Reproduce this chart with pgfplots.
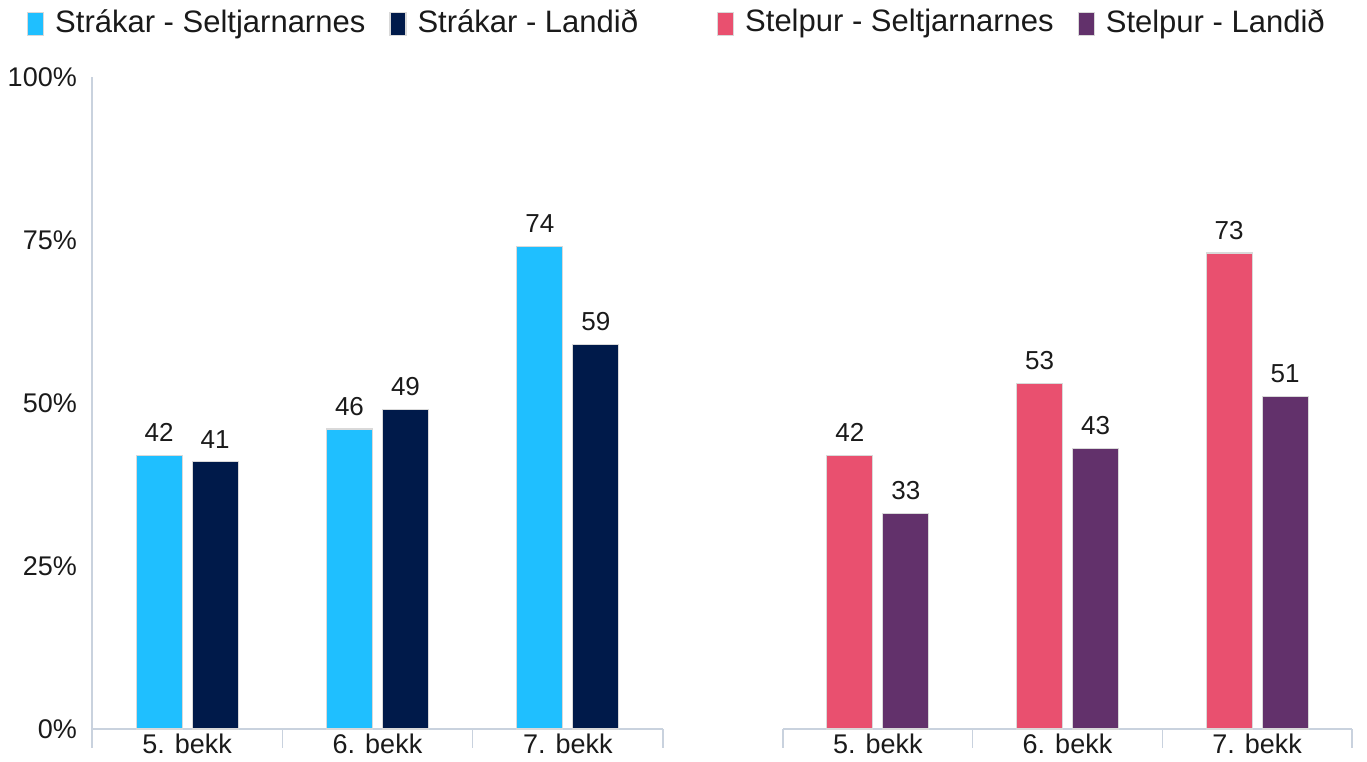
\documentclass[border=0pt]{standalone}
\usepackage{fontspec}
\setmainfont{Liberation Sans}
\usepackage{pgfplots}
\pgfplotsset{compat=1.18}
\definecolor{cblue}{HTML}{1FBFFF}
\definecolor{cnavy}{HTML}{001A4A}
\definecolor{cred}{HTML}{E9506F}
\definecolor{cpurp}{HTML}{62316B}
\definecolor{axcol}{HTML}{C9D2DE}
\definecolor{txt}{HTML}{1A1A1A}
\pgfplotsset{
 mybase/.style={
  scale only axis, height=652pt,
  ymin=0,ymax=100,xmin=-0.5,xmax=2.5,
  axis x line*=bottom,
  axis line style={axcol, line width=1.5pt},
  xtick={0,1,2}, xticklabels={5. bekk,6. bekk,7. bekk},
  major tick length=0pt,
  extra x ticks={-0.5,0.5,1.5,2.5}, extra x tick labels={},
  extra x tick style={major tick length=19pt, tick align=outside, tick style={axcol, line width=1.5pt}},
  xticklabel style={font=\fontsize{27}{30}\selectfont, text=txt, inner sep=0pt, anchor=north, yshift=-5pt},
  ybar, bar width=46pt,
  nodes near coords,
  every node near coord/.append style={font=\fontsize{26}{30}\selectfont, text=txt, inner sep=0pt, anchor=south, yshift=13pt},
  /pgf/number format/assume math mode=true,
  clip=false,
  legend columns=2,
  legend style={draw=none, fill=none, inner sep=0pt, outer sep=0pt,
    font=\fontsize{31}{36}\selectfont, text=txt, anchor=south west,
    nodes={inner sep=0pt},
    /tikz/every odd column/.append style={column sep=11pt},
    /tikz/every even column/.append style={column sep=24pt}},
 }
}
\begin{document}
\begin{tikzpicture}
\path[use as bounding box] (0,0) rectangle (1367pt,762pt);
\begin{axis}[mybase, at={(92pt,33pt)}, anchor=south west, width=571pt,
  axis y line*=left,
  ytick={0,25,50,75,100}, yticklabels={0\%,25\%,50\%,75\%,100\%},
  yticklabel style={font=\fontsize{27}{30}\selectfont, text=txt, anchor=east, inner sep=0pt, xshift=-15pt},
  legend style={at={(-0.1138,1.0629)}},
  legend image code/.code={\fill[#1] (0pt,-14pt) rectangle (16pt,9pt);},
]
\addplot[fill=cblue, draw=black!15, line width=1.2pt, bar shift=-28pt] coordinates {(0,42) (1,46) (2,74)};
\addplot[fill=cnavy, draw=black!15, line width=1.2pt, bar shift=28pt] coordinates {(0,41) (1,49) (2,59)};
\legend{Strákar - Seltjarnarnes, Strákar - Landið}
\end{axis}
\begin{axis}[mybase, at={(783pt,33pt)}, anchor=south west, width=569pt,
  axis y line=none, ytick=\empty,
  legend style={at={(-0.116,1.0629)}},
  legend image code/.code={\fill[#1] (0pt,-14pt) rectangle (16pt,9pt);},
]
\addplot[fill=cred, draw=black!15, line width=1.2pt, bar shift=-28pt] coordinates {(0,42) (1,53) (2,73)};
\addplot[fill=cpurp, draw=black!15, line width=1.2pt, bar shift=28pt] coordinates {(0,33) (1,43) (2,51)};
\legend{Stelpur - Seltjarnarnes, Stelpur - Landið}
\end{axis}
\end{tikzpicture}
\end{document}
